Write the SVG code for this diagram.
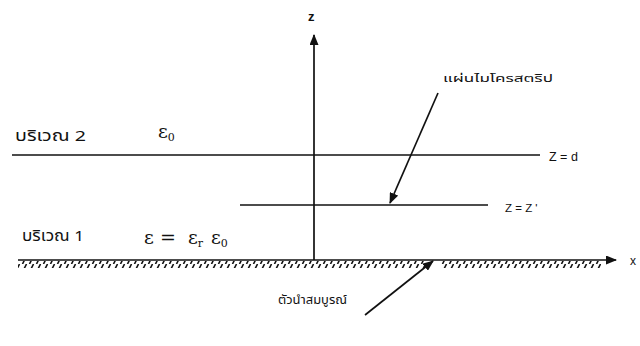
<svg xmlns="http://www.w3.org/2000/svg" width="640" height="346" viewBox="0 0 640 346">
<style>
.ln{stroke:#111;stroke-width:1.7;fill:none}
.t{font-family:"Noto Sans Thai","Noto Sans","DejaVu Sans",sans-serif;fill:#111}
.s{font-family:"Liberation Sans",Arial,sans-serif;fill:#111}
.g{font-family:"DejaVu Serif","Liberation Serif",serif;fill:#111}
</style>
<defs>
<marker id="ah" markerWidth="11" markerHeight="9" refX="10" refY="4.5" orient="auto" markerUnits="userSpaceOnUse">
<path d="M0,0 L11,4.5 L0,9 Z" fill="#111"/>
</marker>
<pattern id="hatch" width="7" height="8" patternUnits="userSpaceOnUse">
<line x1="5.5" y1="0" x2="1.5" y2="8" stroke="#111" stroke-width="1.6"/>
</pattern>
</defs>
<rect width="640" height="346" fill="#fff"/>
<g id="connectors">
<line id="z-axis" class="ln" x1="314" y1="260" x2="314" y2="35" marker-end="url(#ah)"/>
<line id="x-axis" class="ln" x1="18" y1="260" x2="616" y2="260" marker-end="url(#ah)"/>
<line id="arrow-strip" class="ln" x1="438" y1="93" x2="390" y2="203" marker-end="url(#ah)"/>
<line id="arrow-ground" class="ln" x1="365" y1="315" x2="433" y2="261" marker-end="url(#ah)"/>
</g>
<g id="ground">
<rect x="18" y="261" width="410" height="7" fill="url(#hatch)"/>
<rect x="441" y="261" width="160" height="7" fill="url(#hatch)"/>
</g>
<g id="plane-d">
<line class="ln" x1="12" y1="155" x2="540" y2="155"/>
<text class="s" x="549" y="161" font-size="12.5">Z = d</text>
</g>
<g id="strip">
<line class="ln" x1="240" y1="205" x2="488" y2="205"/>
<text class="s" x="505" y="212" font-size="11.5">Z = Z '</text>
</g>
<g id="labels">
<text class="s" x="308" y="21" font-size="13" font-weight="bold">z</text>
<text class="s" x="630" y="265" font-size="12">x</text>
<text class="t" x="15" y="141" font-size="15" textLength="71" lengthAdjust="spacingAndGlyphs">บริเวณ 2</text>
<text class="g" x="158" y="138" font-size="19">ε<tspan font-size="11" dy="3">0</tspan></text>
<text class="t" x="22" y="241" font-size="15" textLength="62" lengthAdjust="spacingAndGlyphs">บริเวณ 1</text>
<text class="g" y="244" font-size="19"><tspan x="144">ε</tspan><tspan x="160">=</tspan><tspan x="188">ε</tspan><tspan font-size="11" dy="3">r</tspan><tspan x="211" dy="-3">ε</tspan><tspan font-size="11" dy="3">0</tspan></text>
<text class="t" x="443" y="82" font-size="11" textLength="110" lengthAdjust="spacingAndGlyphs">แผ่นไมโครสตริป</text>
<text class="t" x="278" y="304" font-size="12" textLength="69" lengthAdjust="spacingAndGlyphs">ตัวนำสมบูรณ์</text>
</g>
</svg>
